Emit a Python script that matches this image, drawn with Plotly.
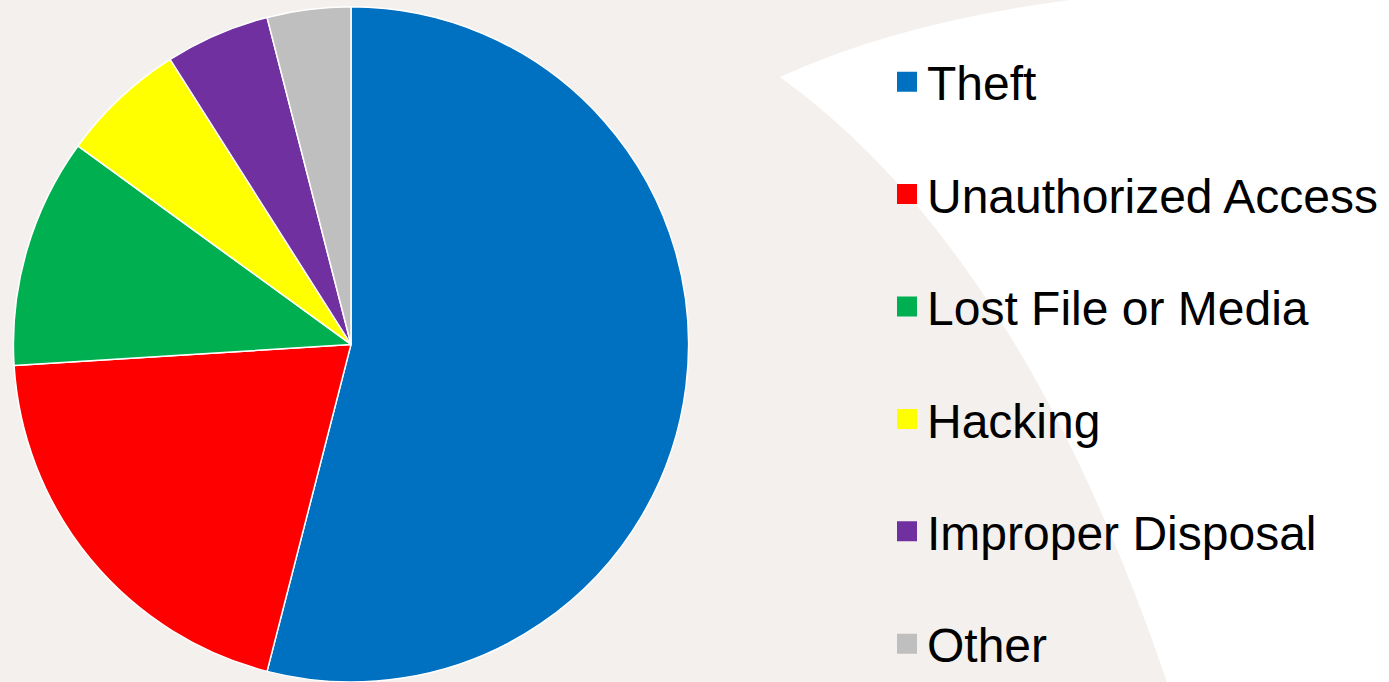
import plotly.graph_objects as go

categories = ["Theft", "Unauthorized Access", "Lost File or Media", "Hacking", "Improper Disposal", "Other"]
values = [54, 20, 11, 6, 5, 4]
colors = ["#0070c0", "#ff0000", "#00b050", "#ffff00", "#7030a0", "#bfbfbf"]

W, H = 1389, 682

def px(x, y):
    return f"{x / W:.5f},{1 - y / H:.5f}"

# decorative white swoosh in the background (pixel-space outline converted to paper coords)
swoosh = (f"M {px(1070, 0)} Q {px(900, 22)} {px(780, 77)} "
          f"Q {px(1020, 250)} {px(1167, 682)} L {px(1389, 682)} L {px(1389, 0)} Z")

fig = go.Figure()
fig.add_trace(go.Pie(
    labels=categories,
    values=values,
    marker=dict(colors=colors, line=dict(color="white", width=1.5)),
    sort=False,
    direction="clockwise",
    rotation=0,
    textinfo="none",
    hoverinfo="label+percent",
    showlegend=False,
    domain=dict(x=[13 / W, 689 / W], y=[0.0, 0.99]),
))

for i, (cat, col) in enumerate(zip(categories, colors)):
    fig.add_trace(go.Scatter(
        x=[None], y=[None], mode="markers", name=cat,
        legendgroup=f"g{i}",
        marker=dict(symbol="square", size=16, color=col, line=dict(color=col, width=4)),
        showlegend=True,
    ))

fig.update_layout(
    width=W, height=H,
    margin=dict(l=0, r=0, t=0, b=0),
    paper_bgcolor="#f4f0ed",
    plot_bgcolor="rgba(0,0,0,0)",
    xaxis=dict(visible=False),
    yaxis=dict(visible=False),
    shapes=[dict(type="path", path=swoosh, xref="paper", yref="paper",
                 fillcolor="white", line=dict(width=0), layer="below")],
    legend=dict(
        x=887 / W, y=1 - 63 / H, xanchor="left", yanchor="top",
        font=dict(family="Liberation Sans, Arial, sans-serif", size=48, color="black"),
        tracegroupgap=47,
        bgcolor="rgba(0,0,0,0)",
        itemsizing="trace",
    ),
)

fig.write_html("out.html")
